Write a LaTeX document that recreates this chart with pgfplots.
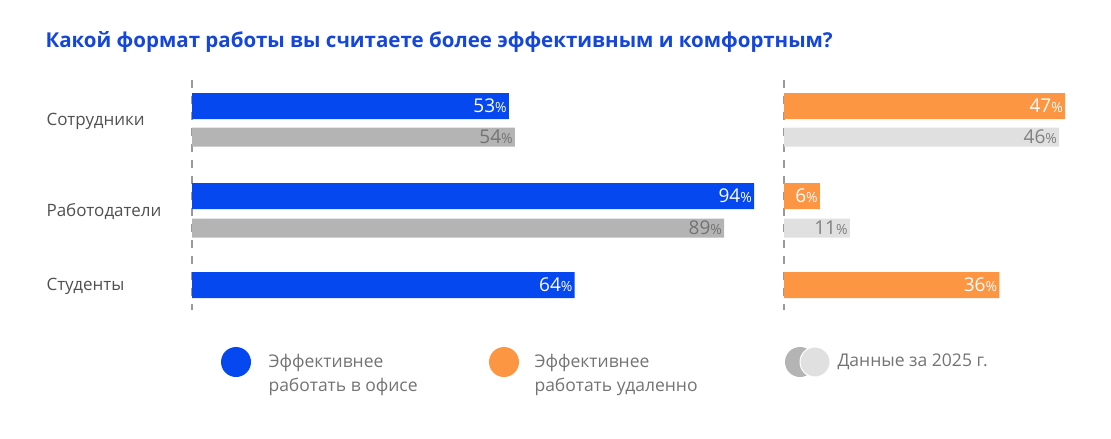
\documentclass[border=0pt]{standalone}
\usepackage{pgfplots}
\pgfplotsset{compat=1.18}
\usepackage{fontspec}
\setmainfont{Open Sans}
\definecolor{cblue}{RGB}{5,72,240}
\definecolor{corange}{RGB}{252,150,66}
\definecolor{cgray}{RGB}{180,180,180}
\definecolor{clight}{RGB}{224,224,224}
\definecolor{ctitle}{RGB}{20,70,220}
\definecolor{ctext}{RGB}{80,80,80}
\newcommand{\pc}{{\fontsize{14pt}{14pt}\selectfont\%}}
\begin{document}
\begin{tikzpicture}
\path[use as bounding box] (0pt,0pt) rectangle (1111pt,-439pt);
\pgfplotsset{myax/.style={scale only axis, hide axis, height=230pt, ymin=-310, ymax=-80, xmin=0,
  xbar, bar width=1, bar shift=0pt, clip=false, point meta=explicit symbolic, nodes near coords,
  every node near coord/.style={anchor=east, font=\fontsize{19pt}{19pt}\selectfont, inner xsep=2pt}}}
\begin{axis}[myax, at={(192pt,-310pt)}, anchor=south west, width=568pt, xmax=95]
\draw[gray!80, line width=1.3pt, dash pattern=on 8pt off 8pt] (axis cs:0,-80) -- (axis cs:0,-310);
\addplot[fill=cblue, draw=none, bar width=26, bar shift=0pt, every node near coord/.append style={white}] coordinates {(53,-106) [53\pc] (94,-196) [94\pc] (64,-285) [64\pc]};
\addplot[fill=cgray, draw=none, bar width=19, bar shift=0pt, every node near coord/.append style={gray!90!black}] coordinates {(54,-137) [54\pc] (89,-228) [89\pc]};
\end{axis}
\begin{axis}[myax, at={(784pt,-310pt)}, anchor=south west, width=299pt, xmax=50]
\draw[gray!80, line width=1.3pt, dash pattern=on 8pt off 8pt] (axis cs:0,-80) -- (axis cs:0,-310);
\addplot[fill=corange, draw=none, bar width=26, bar shift=0pt, every node near coord/.append style={white}] coordinates {(47,-106) [47\pc] (6,-196) [6\pc] (36,-285) [36\pc]};
\addplot[fill=clight, draw=none, bar width=19, bar shift=0pt, every node near coord/.append style={gray}] coordinates {(46,-137) [46\pc] (11,-228) [11\pc]};
\end{axis}
\node[anchor=west, text=ctitle, font=\fontsize{20.5pt}{20.5pt}\selectfont\bfseries] at (42pt,-42pt) {Какой формат работы вы считаете более эффективным и комфортным?};
\foreach \y/\t in {-121/Сотрудники, -212/Работодатели, -286/Студенты}
  \node[anchor=west, text=ctext, font=\fontsize{17pt}{17pt}\selectfont] at (43pt,\y pt) {\t};
\fill[cblue] (236pt,-362pt) circle (15pt);
\node[anchor=west, text=gray!90!black, align=left, font=\fontsize{17.5pt}{24pt}\selectfont] at (265pt,-375pt) {Эффективнее\\работать в офисе};
\fill[corange] (504pt,-362pt) circle (15pt);
\node[anchor=west, text=gray!90!black, align=left, font=\fontsize{17.5pt}{24pt}\selectfont] at (531pt,-375pt) {Эффективнее\\работать удаленно};
\fill[cgray] (800pt,-362pt) circle (15pt);
\fill[clight, draw=white, line width=1pt] (815pt,-362pt) circle (15pt);
\node[anchor=west, text=gray!90!black, font=\fontsize{17.5pt}{17.5pt}\selectfont] at (834pt,-362pt) {Данные за 2025 г.};
\end{tikzpicture}
\end{document}
